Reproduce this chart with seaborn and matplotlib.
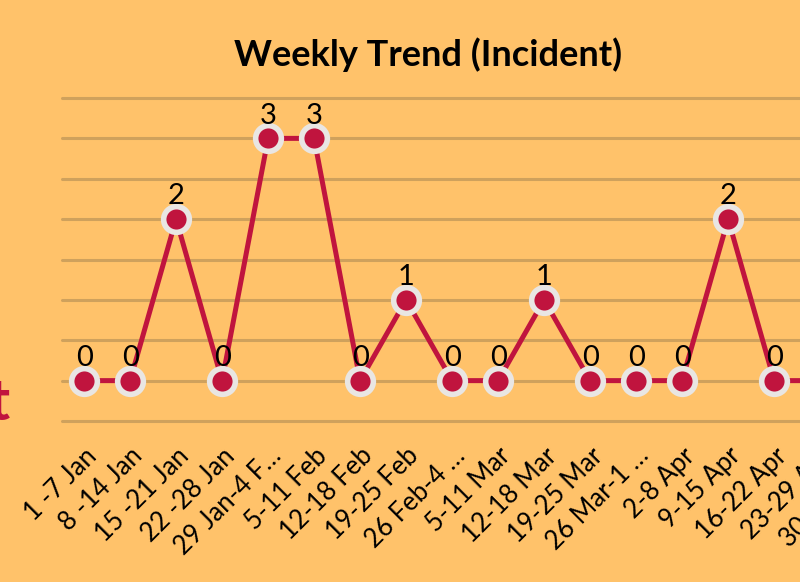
import matplotlib
matplotlib.use("Agg")
import matplotlib.pyplot as plt
import seaborn as sns
import pandas as pd

# weekly incident counts
weeks = ["1 -7 Jan", "8 -14 Jan", "15 -21 Jan", "22 -28 Jan", "29 Jan-4 F\u2026",
         "5-11 Feb", "12-18 Feb", "19-25 Feb", "26 Feb-4 \u2026", "5-11 Mar",
         "12-18 Mar", "19-25 Mar", "26 Mar-1 \u2026", "2-8 Apr", "9-15 Apr",
         "16-22 Apr", "23-29 Apr", "30 Apr-6 \u2026"]
incidents = [0, 0, 2, 0, 3, 3, 0, 1, 0, 0, 1, 0, 0, 0, 2, 0, 0, 0]

title = "Weekly Trend (Incident)"
side_label = "Incident"

bg = "#FFC26A"
grid_col = "#CFA15C"
line_col = "#C0143E"
edge_col = "#E9E6E3"

df = pd.DataFrame({"week": weeks, "count": incidents})

sns.set_theme(style="white")
plt.rcParams["font.family"] = ["Lato", "DejaVu Sans"]

fig = plt.figure(figsize=(8, 5.82), dpi=100, facecolor=bg)
ax = fig.add_axes([62 / 800, 1 - 421 / 582, 18 * 45.9 / 800, 323 / 582])
ax.set_facecolor(bg)

sns.lineplot(data=df, x="week", y="count", ax=ax, color=line_col, linewidth=3.6,
             marker="o", markersize=18.5, markerfacecolor=line_col,
             markeredgecolor=edge_col, markeredgewidth=4, sort=False, zorder=3)

for i, v in enumerate(incidents):
    ax.annotate(str(v), (i, v), xytext=(0, 7), textcoords="offset points",
                ha="center", va="bottom", fontsize=21, color="black", zorder=4)

ax.set_xlim(-0.48, len(weeks) - 0.52)
ax.set_ylim(-0.5, 3.5)
ax.set_yticks([-0.5, 0, 0.5, 1, 1.5, 2, 2.5, 3, 3.5])
ax.set_yticklabels([])
ax.yaxis.grid(True, color=grid_col, linewidth=2.2)
ax.xaxis.grid(False)
for gl in ax.get_ygridlines():
    gl.set_clip_on(False)
for s in ax.spines.values():
    s.set_visible(False)
ax.tick_params(axis="both", length=0)
ax.set_xlabel("")
ax.set_ylabel("")
plt.setp(ax.get_xticklabels(), rotation=45, ha="right", rotation_mode="anchor",
         fontsize=18.5, color="black")
ax.tick_params(axis="x", pad=16)

fig.text(428 / 800, 1 - 55 / 582, title, ha="center", va="center",
         fontsize=26, fontweight="bold", color="black")
fig.text(10 / 800, 1 - 403 / 582, side_label, ha="right", va="center",
         fontsize=42, fontweight="bold", color=line_col)

fig.savefig("out.png", dpi=100, facecolor=bg)
